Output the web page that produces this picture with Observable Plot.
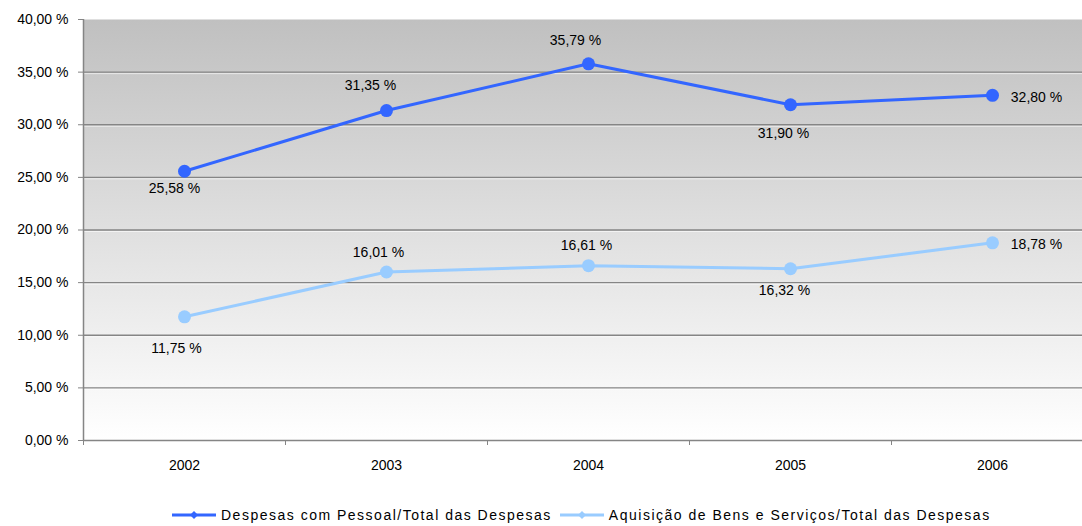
<!DOCTYPE html>
<html>
<head>
<meta charset="utf-8">
<script src="https://cdn.jsdelivr.net/npm/d3@7"></script>
<script src="https://cdn.jsdelivr.net/npm/@observablehq/plot@0.6"></script>
<style>
  html, body { margin: 0; padding: 0; background: #fff; }
  #wrap { position: relative; width: 1082px; height: 526px; font-family: "Liberation Sans", Arial, sans-serif; }
  #legend { position: absolute; left: 172px; top: 507px; display: flex; align-items: center; font-size: 14px; letter-spacing: 1.5px; color: #000; white-space: nowrap; }
  #legend .item { display: flex; align-items: center; margin-right: 8px; }
  #legend svg { margin-right: 5px; }
</style>
</head>
<body>
<div id="wrap"><div id="chart"></div><div id="legend"></div></div>
<script>
// ---- data ----
const years = [2002, 2003, 2004, 2005, 2006];
const pessoal = [25.58, 31.35, 35.79, 31.90, 32.80];
const aquisicao = [11.75, 16.01, 16.61, 16.32, 18.78];
const seriesNames = ["Despesas com Pessoal/Total das Despesas", "Aquisição de Bens e Serviços/Total das Despesas"];
const yTicks = [0, 5, 10, 15, 20, 25, 30, 35, 40];

// ---- style ----
const colors = ["#3366ff", "#99ccff"];
// label offsets [dx, dy] per point (style only)
const labelOffsets = [
  [[-10, 17], [-16, -25], [-13, -23], [-7, 29], [44, 2]],
  [[-8, 32], [-8, -19], [-2, -20], [-6, 22], [44, 2]]
];

const fmt = v => v.toFixed(2).replace(".", ",") + " %";

const series = [pessoal, aquisicao].map((vals, s) =>
  years.map((yr, i) => ({year: yr, value: vals[i], series: seriesNames[s], s, i}))
);
const rows = series.flat();

const labelMarks = rows.map(d =>
  Plot.text([d], {
    x: "year", y: "value", text: r => fmt(r.value),
    dx: labelOffsets[d.s][d.i][0], dy: labelOffsets[d.s][d.i][1],
    fill: "#000", fontSize: 14, textAnchor: "middle",
    style: "letter-spacing:1px"
  })
);

const boundaries = years.map(y => y - 0.5).concat([years[years.length - 1] + 0.5]);

const chart = Plot.plot({
  width: 1082,
  height: 500,
  marginLeft: 83,
  marginRight: 0,
  marginTop: 19,
  marginBottom: 60,
  style: {fontFamily: "'Liberation Sans', Arial, sans-serif", fontSize: "14px", background: "transparent", overflow: "hidden"},
  x: {type: "linear", domain: [years[0] - 0.5, years[years.length - 1] + 0.5], range: [83, 1093], label: null},
  y: {domain: [0, 40], label: null},
  marks: [
    Plot.frame({fill: "url(#bgGrad)", stroke: null}),
    Plot.ruleY(yTicks.filter(t => t > 0 && t < 40), {stroke: "#858585", strokeWidth: 1.3}),
    Plot.ruleY(yTicks.filter(t => t > 0 && t < 40), {stroke: "#ffffff", strokeOpacity: 0.6, dy: 1.5}),
    Plot.ruleX([boundaries[0]], {stroke: "#858585", strokeWidth: 1.5}),
    Plot.ruleY([0], {stroke: "#858585", strokeWidth: 1.5}),
    Plot.axisY(yTicks, {label: null, tickSize: 5, tickPadding: 10, tickFormat: fmt, stroke: "#858585", fill: "#000", fontSize: 14, style: "letter-spacing:1px"}),
    Plot.axisX(boundaries, {label: null, tickSize: 5, tickFormat: () => "", stroke: "#858585"}),
    Plot.axisX(years, {label: null, tickSize: 0, tickPadding: 20, tickFormat: d => String(d), fill: "#000", fontSize: 14, style: "letter-spacing:1px"}),
    ...series.map((data, s) => Plot.line(data, {x: "year", y: "value", stroke: colors[s], strokeWidth: 3})),
    ...series.map((data, s) => Plot.dot(data, {x: "year", y: "value", fill: colors[s], r: 6.5})),
    ...labelMarks
  ]
});

// gradient definition for the plot background
const ns = "http://www.w3.org/2000/svg";
const defs = document.createElementNS(ns, "defs");
defs.innerHTML = '<linearGradient id="bgGrad" x1="0" y1="0" x2="0" y2="1">' +
  '<stop offset="0" stop-color="#c0c0c0"/><stop offset="1" stop-color="#ffffff"/></linearGradient>';
chart.insertBefore(defs, chart.firstChild);
document.getElementById("chart").appendChild(chart);

// legend
const legend = document.getElementById("legend");
seriesNames.forEach((name, s) => {
  const item = document.createElement("div");
  item.className = "item";
  item.innerHTML =
    `<svg width="44" height="10"><line x1="0" y1="5" x2="44" y2="5" stroke="${colors[s]}" stroke-width="3"/>` +
    `<path d="M22 1 L26 5 L22 9 L18 5 Z" fill="${colors[s]}"/></svg><span>${name}</span>`;
  legend.appendChild(item);
});
</script>
</body>
</html>
